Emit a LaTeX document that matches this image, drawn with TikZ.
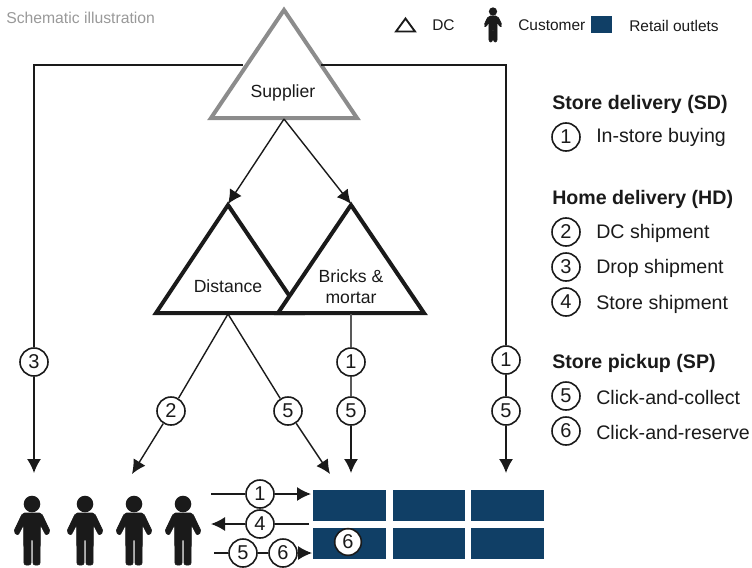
\documentclass[tikz,border=0pt]{standalone}
\usepackage{fontspec}
\setmainfont{Liberation Sans}
\usetikzlibrary{arrows.meta}
\definecolor{retail}{HTML}{103F66}
\definecolor{ink}{HTML}{1A1A1A}
\tikzset{
  x=0.75pt,y=-0.75pt,
  num/.style={circle,draw=ink,line width=1.2pt,fill=white,minimum size=21pt,inner sep=0pt,font=\fontsize{15}{17}\selectfont,text=ink},
  conn/.style={draw=ink,line width=1.05pt},
  arr/.style={conn,-{Latex[length=10.5pt,width=10.5pt]}},
  tri/.style={draw=ink,line width=3pt,line join=miter,fill=white},
  store/.style={fill=retail,draw=none,minimum width=54.5pt,minimum height=23.5pt,inner sep=0pt},
  lab/.style={font=\fontsize{13.2}{15}\selectfont,text=ink,align=center,inner sep=0pt},
  leg/.style={font=\fontsize{14.7}{16}\selectfont,text=ink,anchor=west,inner sep=0pt},
  head/.style={font=\bfseries\fontsize{14.7}{16}\selectfont,text=ink,anchor=west,inner sep=0pt},
  small/.style={font=\fontsize{11.6}{13}\selectfont,text=ink,anchor=west,inner sep=0pt},
  person/.pic={
    \fill[ink] (0,0) circle (8.3);
    \filldraw[ink,line width=0.4pt,line join=round,rounded corners=1.5] (-9.5,9) -- (9.5,9) -- (18.5,28) -- (14,31.5) -- (8.5,21) -- (8,61) -- (1,61) -- (1,35) -- (-1,35) -- (-1,61) -- (-8,61) -- (-8.5,21) -- (-14,31.5) -- (-18.5,28) -- cycle;
  }
}
\begin{document}
\begin{tikzpicture}
\useasboundingbox (0,0) rectangle (752,567);
% triangles
\draw[tri,draw=black!45] (284,10) -- (357,118) -- (211,118) -- cycle;
\draw[tri] (228,205) -- (301,313) -- (156,313) -- cycle;
\draw[tri] (351,205) -- (424,313) -- (278,313) -- cycle;
\node[lab] (sup) at (283,92.5) {Supplier};
\node[lab] (dis) at (228,286) {Distance};
\node[lab,font=\fontsize{13.2}{16}\selectfont] (bri) at (351,286.5) {Bricks \&\\mortar};
% connection points
\coordinate (supL) at (243,65);
\coordinate (supR) at (321,65);
\coordinate (supB) at (284,119);
\coordinate (disT) at (228,204);
\coordinate (briT) at (351,204);
\coordinate (disB) at (228,314);
\coordinate (briB) at (351,314);
\coordinate (cnrL) at (34,65);
\coordinate (cnrR) at (506,65);
\coordinate (endA) at (34,473);
\coordinate (endB) at (132,474);
\coordinate (endC) at (330,474);
\coordinate (endD) at (351,473);
\coordinate (endE) at (506,473);
% numbered circles
\node[num] (n3) at (34,362) {3};
\node[num] (nb1) at (351,362) {1};
\node[num] (nb5) at (351,411) {5};
\node[num] (nr1) at (506,360) {1};
\node[num] (nr5) at (506,411) {5};
\node[num] (nd2) at (171,411) {2};
\node[num] (nd5) at (288,411) {5};
% connectors
\draw[arr] (supB) -- (disT);
\draw[arr] (supB) -- (briT);
\draw[conn] (supL) -- (cnrL) -- (n3);
\draw[arr] (n3) -- (endA);
\draw[conn] (supR) -- (cnrR) -- (nr1);
\draw[conn] (nr1) -- (nr5);
\draw[arr] (nr5) -- (endE);
\draw[conn,draw=black!65] (briB) -- (nb1);
\draw[conn,draw=black!65] (nb1) -- (nb5);
\draw[arr] (nb5) -- (endD);
\draw[conn] (disB) -- (nd2);
\draw[arr] (nd2) -- (endB);
\draw[conn] (disB) -- (nd5);
\draw[arr] (nd5) -- (endC);
% retail outlets
\node[store] (s1) at (349.5,505.5) {};
\node[store] (s2) at (429,505.5) {};
\node[store] (s3) at (507.5,505.5) {};
\node[store] (s4) at (349.5,543.5) {};
\node[store] (s5) at (429,543.5) {};
\node[store] (s6) at (507.5,543.5) {};
\node[num,minimum size=20pt] (n6) at (348,542) {6};
% customers
\pic at (32,504) {person};
\pic at (85,504) {person};
\pic at (134,504) {person};
\pic at (183,504) {person};
% bottom flows
\coordinate (f1a) at (211,494);
\coordinate (f1b) at (311,494);
\coordinate (f4a) at (309,524);
\coordinate (f4b) at (211,524);
\coordinate (f5a) at (214,553);
\coordinate (f5b) at (312,553);
\node[num] (b1) at (260,494) {1};
\node[num] (b4) at (260,524) {4};
\node[num] (b5) at (243,553) {5};
\node[num] (b6) at (283,553) {6};
\draw[conn] (f1a) -- (b1);
\draw[arr] (b1) -- (f1b);
\draw[conn] (f4a) -- (b4);
\draw[arr] (b4) -- (f4b);
\draw[conn] (f5a) -- (b5);
\draw[conn] (b5) -- (b6);
\draw[arr] (b6) -- (f5b);
% legend top
\node[font=\fontsize{11.8}{13}\selectfont,text=black!40,anchor=west,inner sep=0pt] (title) at (6,18) {Schematic illustration};
\draw[draw=ink,line width=1.4pt] (405.5,18.5) -- (415,31.5) -- (396,31.5) -- cycle;
\node[small] (ldc) at (432,25.5) {DC};
\pic[scale=0.5,transform shape] at (493,11.5) {person};
\node[small] (lcu) at (518,25.5) {Customer};
\node[fill=retail,minimum width=15.5pt,minimum height=12.5pt,inner sep=0pt] (lre) at (601.5,24.5) {};
\node[small] (lrt) at (629,25.5) {Retail outlets};
% legend right
\node[head] (h1) at (552,104) {Store delivery (SD)};
\node[num] (k1) at (566,137) {1};
\node[leg] (t1) at (596,137) {In-store buying};
\node[head] (h2) at (552,199) {Home delivery (HD)};
\node[num] (k2) at (566,232) {2};
\node[leg] (t2) at (596,233) {DC shipment};
\node[num] (k3) at (566,267) {3};
\node[leg] (t3) at (596,268) {Drop shipment};
\node[num] (k4) at (566,302) {4};
\node[leg] (t4) at (596,304) {Store shipment};
\node[head] (h3) at (552,363) {Store pickup (SP)};
\node[num] (k5) at (566,396) {5};
\node[leg] (t5) at (596,397) {Click-and-collect};
\node[num] (k6) at (566,431) {6};
\node[leg] (t6) at (596,432) {Click-and-reserve};
\end{tikzpicture}
\end{document}
